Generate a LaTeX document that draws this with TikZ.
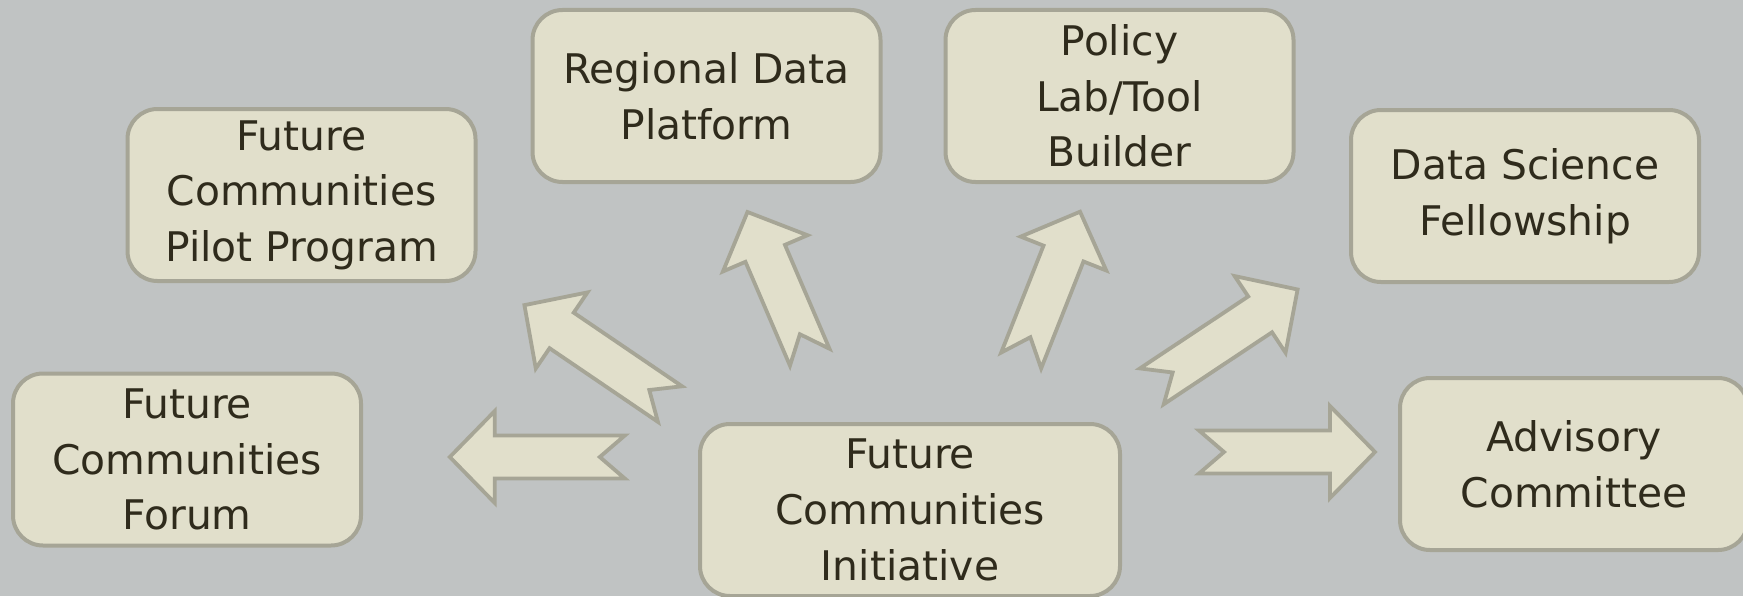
\documentclass[tikz,border=0pt]{standalone}
\usepackage{fontspec}
\setmainfont{DejaVu Sans}
\definecolor{bgc}{HTML}{C0C3C3}
\definecolor{boxc}{HTML}{E1DFCB}
\definecolor{bordc}{HTML}{A6A596}
\definecolor{txtc}{HTML}{2F2B1C}
\tikzset{
  boxsty/.style={draw=bordc, fill=boxc, line width=2pt, rounded corners=15pt,
    minimum width=174pt, minimum height=86pt, align=center, inner sep=0pt,
    text=txtc, font=\fontsize{20.4}{27.8}\selectfont},
  arrowsty/.style={draw=bordc, fill=boxc, line width=1.9pt, line join=miter}
}
\newcommand\blockarrow[4]{%
  \begin{scope}[shift={(#1,#2)}, rotate=#3]
    \draw[arrowsty] ({#4/2},0) -- ({#4/2-45},46) -- ({#4/2-45},21.5) -- ({-#4/2},21.5)
      -- ({-#4/2+25},0) -- ({-#4/2},-21.5) -- ({#4/2-45},-21.5) -- ({#4/2-45},-46) -- cycle;
  \end{scope}}
\begin{document}
\begin{tikzpicture}[x=0.5pt,y=0.5pt]
\useasboundingbox (0,0) rectangle (1743,596);
\fill[bgc] (0,0) rectangle (1743,596);
\clip (0,0) rectangle (1743,596);
\node[boxsty] (forum) at (187,136.5) {Future\\Communities\\Forum};
\node[boxsty] (pilot) at (301.5,401) {Future\\Communities\\Pilot Program};
\node[boxsty] (regional) at (706.5,500) {Regional Data\\Platform};
\node[boxsty] (policy) at (1119.5,500) {Policy\\Lab/Tool\\Builder};
\node[boxsty] (datasci) at (1525,400) {Data Science\\Fellowship};
\node[boxsty] (advisory) at (1574,132) {Advisory\\Committee};
\node[boxsty, minimum width=210pt, minimum height=86pt] (center) at (910,86) {Future\\Communities\\Initiative};
\blockarrow{537.3}{139}{180}{175}
\blockarrow{597.2}{241.4}{145.8}{176}
\blockarrow{778.6}{311.4}{113.2}{158}
\blockarrow{1050.6}{309.9}{68.4}{160}
\blockarrow{1224.7}{258.1}{33.6}{175}
\blockarrow{1287}{144}{0}{176}
\end{tikzpicture}
\end{document}
